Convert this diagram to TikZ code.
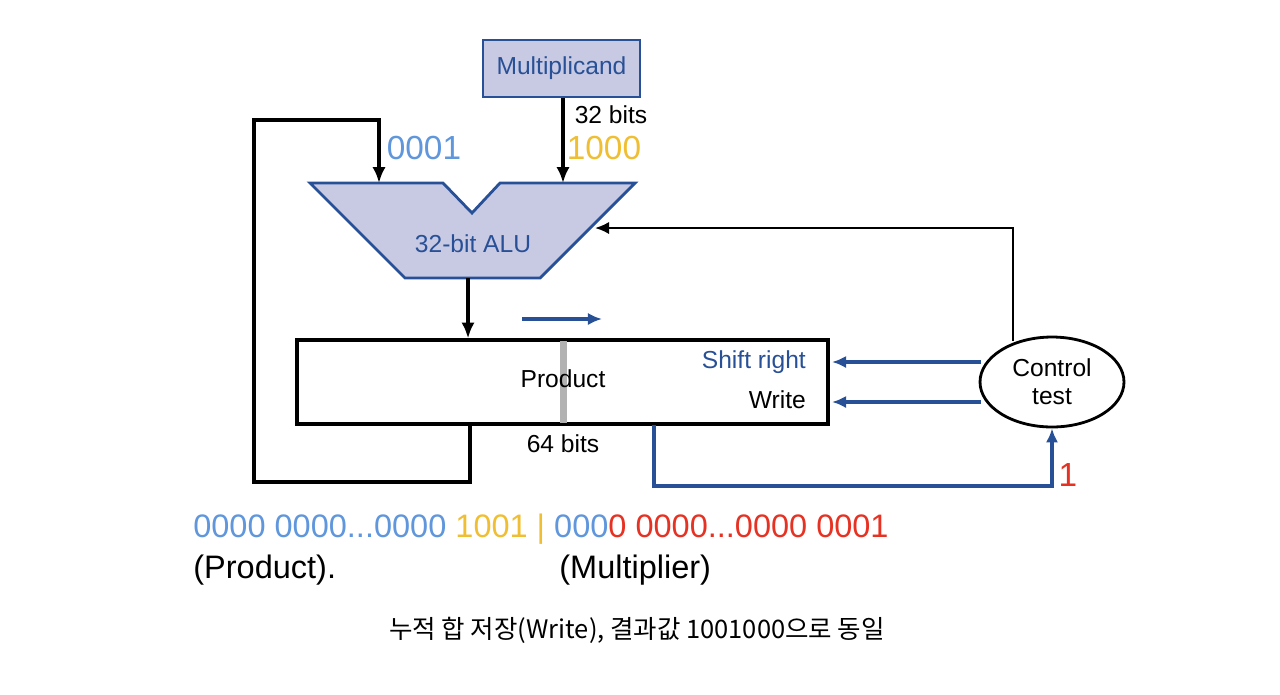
\documentclass[tikz,border=0pt]{standalone}
\usepackage{fontspec}
\setmainfont{Liberation Sans}
\newfontfamily\kr{Noto Sans CJK KR}
\usetikzlibrary{positioning}
\usetikzlibrary{shapes.geometric}
\usetikzlibrary{arrows.meta}
\definecolor{dblue}{RGB}{40,80,150}
\definecolor{lblue}{RGB}{95,150,220}
\definecolor{fillb}{RGB}{200,202,228}
\definecolor{gold}{RGB}{240,190,50}
\definecolor{bred}{RGB}{230,50,35}
\tikzset{wire/.style={line width=2pt, -{Latex[length=9pt,width=7.5pt]}}}
\tikzset{bwire/.style={line width=1.8pt, draw=dblue, -{Latex[length=8pt,width=7pt]}}}
\tikzset{lbl/.style={font=\fontsize{14}{16}\selectfont}}
\tikzset{big/.style={font=\fontsize{18.5}{22}\selectfont, inner sep=0pt}}
\begin{document}
\begin{tikzpicture}[x=0.02cm, y=-0.02cm]
\useasboundingbox (0,0) rectangle (1280,694);

% ALU and registers
\node[draw=dblue, line width=1.6pt, fill=fillb, minimum width=3.14cm, minimum height=1.14cm, text=dblue, lbl] (mcand) at (561.5,68.5) {Multiplicand};
\draw[draw=dblue, line width=1.6pt, fill=fillb] (310,183) -- (443,183) -- (472,213) -- (500,183) -- (635,183) -- (540,278) -- (405,278) -- cycle;
\node[text=dblue, lbl] (alu) at (473,244) {32-bit ALU};
\coordinate (aluL) at (379,183);
\coordinate (aluR) at (563,183);
\coordinate (aluB) at (468,278);
\coordinate (aluS) at (595,228);
\node[draw, line width=1.8pt, minimum width=10.62cm, minimum height=1.68cm] (prod) at (562.5,382) {};
\fill[gray!60] (560,341) rectangle (567,423);
\node[lbl] (ptext) at (563,379) {Product};
\node[lbl, text=dblue, anchor=east] (shr) at (812,362) {Shift right};
\node[lbl, anchor=east] (wr) at (812,400) {Write};
\node[lbl] (b64) at (563,444) {64 bits};
\node[lbl] (b32) at (611,115) {32 bits};
\node[draw, line width=1.6pt, ellipse, minimum width=2.88cm, minimum height=1.8cm, align=center, lbl, inner sep=0pt] (ctrl) at (1052,382) {Control\\test};
\coordinate (c1) at (981,362);
\coordinate (c2) at (981,402);
\coordinate (p1) at (832,362);
\coordinate (p2) at (832,402);

% connectors
\draw[wire] (mcand.south -| aluR) -- (aluR);
\draw[wire] (aluB) -- (aluB |- prod.north);
\draw[wire] (470,425) -- (470,482) -- (254,482) -- (254,120) -- (379,120) -- (aluL);
\draw[line width=1.2pt, -{Latex[length=8pt,width=7pt]}] (1013,341) -- (1013,228) -- (aluS);
\draw[bwire] (c1) -- (p1);
\draw[bwire] (c2) -- (p2);
\draw[bwire] (654,425) -- (654,486) -- (1052,486) -- (ctrl.south);
\draw[bwire] (522,319) -- (602,319);

% values
\node[font=\fontsize{19}{22}\selectfont, text=lblue] (v1) at (424,148) {0001};
\node[font=\fontsize{19}{22}\selectfont, text=gold] (v2) at (604,148) {1000};
\node[font=\fontsize{19}{22}\selectfont, text=bred] (v3) at (1068,475) {1};
\node[big, anchor=west] (bits) at (193,529) {\textcolor{lblue}{0000 0000...0000 }\textcolor{gold}{1001 | }\textcolor{lblue}{000}\textcolor{bred}{0 0000...0000 0001}};
\node[big, anchor=west] (pl) at (193,570) {(Product).};
\node[big, anchor=west] (ml) at (559,570) {(Multiplier)};
\node[font=\kr\fontsize{14.5}{16}\selectfont] (note) at (637,630) {누적 합 저장(Write), 결과값 1001000으로 동일};
\end{tikzpicture}
\end{document}
